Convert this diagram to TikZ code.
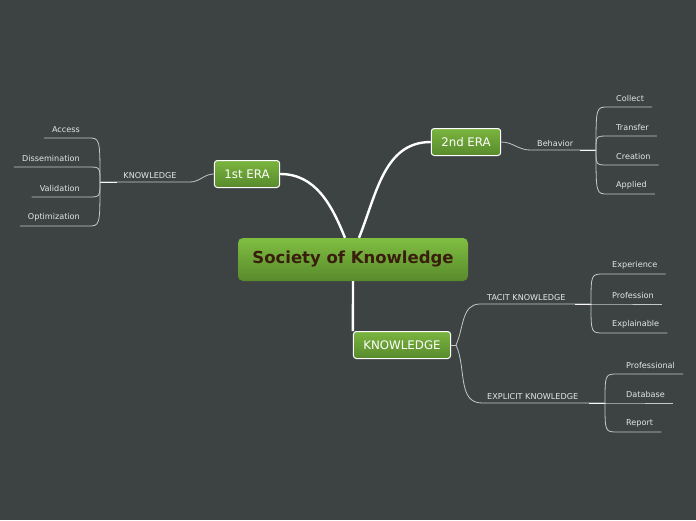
\documentclass[tikz,border=0pt]{standalone}
\usepackage{fontspec}
\setmainfont{DejaVu Sans}
\usetikzlibrary{positioning,calc}

\definecolor{bgdark}{RGB}{61,67,67}
\definecolor{topgreen}{RGB}{128,190,66}
\definecolor{lowgreen}{RGB}{88,138,44}
\definecolor{rootink}{RGB}{58,30,12}
\definecolor{twiggray}{RGB}{196,200,200}
\definecolor{lblgray}{RGB}{228,230,230}

\begin{document}
\begin{tikzpicture}[x=1pt, y=-1pt,
  root/.style={rounded corners=5pt, top color=topgreen, bottom color=lowgreen,
               minimum width=230pt, minimum height=43pt,
               font=\fontsize{16.5}{19}\selectfont\bfseries, text=rootink},
  era/.style={draw=white, line width=1pt, rounded corners=3pt,
              top color=topgreen!95!black, bottom color=lowgreen,
              minimum height=27pt, inner xsep=10pt,
              font=\fontsize{11.8}{14}\selectfont, text=white},
  trunk/.style={white, line width=2.4pt},
  twig/.style={twiggray, line width=0.8pt},
  knot/.style={white!90!twiggray, line width=0.9pt},
  lbl/.style={text=lblgray, font=\fontsize{8.1}{9}\selectfont, inner sep=2pt},
  leafl/.style={lbl, anchor=south east, inner xsep=8pt, inner ysep=5pt},
  leafr/.style={lbl, anchor=south west, inner xsep=8pt, inner ysep=5pt},
]
\fill[bgdark] (0,0) rectangle (696,520);

%% Central topic and main topics
\node[root] (soc) at (353,259.5) {\raisebox{-2pt}{Society of Knowledge}};
\node[era] (era1) at (247,174) {1st ERA};
\node[era] (era2) at (466,142) {2nd ERA};
\node[era] (kn) at (402,345) {KNOWLEDGE};

\draw[trunk] ($(soc.north)+(-8,0)$) to[out=112,in=0] (era1.east);
\draw[trunk] ($(soc.north)+(6,0)$) to[out=68,in=180] (era2.west);
\draw[trunk] (soc.south) -- (kn.north west);

%% 1st ERA
\coordinate (k1r) at (190,182);
\coordinate (k1f) at (100,182);
\draw[twig] (era1.west) to[out=180,in=0] (k1r) -- (k1f);
\draw[knot] (k1f) -- ++(17,0);
\node[lbl, anchor=south] (k1) at (150,181) {KNOWLEDGE};

\node[leafl] (acc) at (88,138) {Access};
\node[leafl] (dis) at (88,167) {Dissemination};
\node[leafl] (val) at (88,197) {Validation};
\node[leafl] (opt) at (88,226) {Optimization};
\foreach \n in {acc,dis,val,opt}
  \draw[twig] (k1f) .. controls (k1f |- \n.south east) .. (\n.south east) -- (\n.south west);

%% 2nd ERA
\coordinate (b2r) at (530,150);
\coordinate (b2f) at (596,150);
\draw[twig] (era2.east) to[out=0,in=180] (b2r) -- (b2f);
\draw[knot] (b2f) -- ++(-16,0);
\node[lbl, anchor=south west] (beh) at (535,149) {Behavior};

\node[leafr] (col) at (608,107) {Collect};
\node[leafr] (tra) at (608,136) {Transfer};
\node[leafr] (cre) at (608,165) {Creation};
\node[leafr] (app) at (608,194) {Applied};
\foreach \n in {col,tra,cre,app}
  \draw[twig] (b2f) .. controls (b2f |- \n.south west) .. (\n.south west) -- (\n.south east);

%% KNOWLEDGE
\coordinate (knf) at (456,345);
\coordinate (tal) at (480,304);
\coordinate (taf) at (591,304);
\coordinate (exl) at (482,403);
\coordinate (exf) at (605,403);
\draw[twig] (kn.east) -- (knf);
\draw[twig] (knf) to[out=65,in=180] (tal) -- (taf);
\draw[twig] (knf) to[out=-65,in=180] (exl) -- (exf);
\draw[knot] (taf) -- ++(-16,0);
\draw[knot] (exf) -- ++(-16,0);
\node[lbl, anchor=south west] (tac) at (485,303) {TACIT KNOWLEDGE};
\node[lbl, anchor=south west] (exp) at (485,402) {EXPLICIT KNOWLEDGE};

\node[leafr] (xpe) at (604,274) {Experience};
\node[leafr] (pro) at (604,304) {Profession};
\node[leafr] (xpl) at (604,333) {Explainable};
\foreach \n in {xpe,pro,xpl}
  \draw[twig] (taf) .. controls (taf |- \n.south west) .. (\n.south west) -- (\n.south east);

\node[leafr] (pfl) at (618,374) {Professional};
\node[leafr] (dat) at (618,403) {Database};
\node[leafr] (rep) at (618,432) {Report};
\foreach \n in {pfl,dat,rep}
  \draw[twig] (exf) .. controls (exf |- \n.south west) .. (\n.south west) -- (\n.south east);

\end{tikzpicture}
\end{document}
